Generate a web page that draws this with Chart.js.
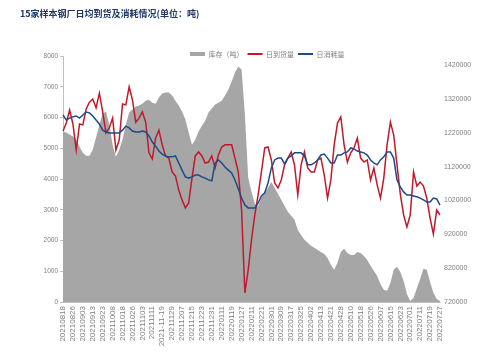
<!DOCTYPE html>
<html><head><meta charset="utf-8">
<script src="https://cdn.jsdelivr.net/npm/chart.js@4"></script>
<style>html,body{margin:0;padding:0;background:#fff;}#wrap{width:500px;height:356px;}</style>
</head><body>
<div id="wrap"><canvas id="c" width="500" height="356"></canvas></div>
<script>
const tickLabels = ['20210818','20210826','20210903','20210913','20210923','20211008','20211018','20211026','20211103','20211111','2021-11-19','20211129','20211207','20211215','20211223','20211231','20220111','20220119','20220127','20220211','20220221','20220301','20220309','20220317','20220325','20220402','20220413','20220421','20220428','20220510','20220518','20220526','20220607','20220615','20220623','20220701','20220711','20220719','20220727'];

// 库存（吨） - right axis
const inventory = [1224000,1221000,1215000,1209000,1200000,1179000,1161000,1152000,1152000,1170000,
 1206000,1244000,1277000,1283000,1244000,1185000,1149000,1170000,1200000,1244000,
 1280000,1289000,1298000,1301000,1306000,1315000,1318000,1309000,1306000,1324000,
 1336000,1339000,1339000,1330000,1315000,1301000,1283000,1259000,1221000,1185000,
 1200000,1224000,1241000,1256000,1280000,1292000,1304000,1309000,1315000,1330000,
 1348000,1372000,1398000,1416000,1407000,1274000,1087000,1046000,1010000,1004000,
 1028000,1043000,1058000,1075000,1058000,1040000,1022000,1004000,987000,975000,
 963000,933000,918000,904000,895000,886000,880000,874000,868000,862000,
 850000,830000,815000,836000,868000,877000,865000,859000,859000,868000,
 865000,856000,844000,827000,812000,797000,773000,756000,753000,776000,
 815000,824000,809000,782000,744000,723000,732000,761000,788000,818000,
 815000,779000,747000,729000,723000];

// 日到货量 - left axis
const arrivals = [5560,5820,6240,5790,4940,5790,5760,6280,6500,6600,
 6310,6790,6180,5500,5660,5980,4940,5270,6440,6410,
 7000,6570,5850,5980,6180,5850,4850,4650,5330,5590,
 5110,4750,4680,4230,4100,3640,3320,3060,3220,4030,
 4750,4880,4750,4520,4550,4750,4360,4780,5040,5110,
 5110,5110,4680,4230,2990,300,1040,2020,2830,3480,
 4230,5010,5040,4620,3870,3710,3970,4460,4680,4880,
 4460,3480,4460,4880,4360,4230,4230,4620,4680,4130,
 3380,3970,5110,5820,6020,5110,4550,4850,5010,5330,
 4680,4550,4620,3970,4360,3810,3380,4030,5110,5850,
 5430,4460,3510,2830,2440,2830,4230,3770,3900,3770,
 3380,2730,2210,2990,2830];

// 日消耗量 - left axis
const consumption = [6080,5920,5980,6020,6050,5980,6080,6180,6150,6050,
 5920,5790,5590,5530,5500,5500,5500,5500,5590,5720,
 5660,5560,5530,5530,5560,5530,5400,5200,5070,4910,
 4810,4750,4720,4720,4750,4520,4290,4070,4030,4070,
 4130,4130,4070,4030,3970,3940,4520,4620,4520,4390,
 4290,4200,3970,3680,3380,3150,3060,3060,3060,3220,
 3450,3550,3870,4360,4620,4680,4680,4490,4680,4750,
 4850,4850,4850,4750,4460,4460,4520,4620,4780,4810,
 4680,4520,4520,4780,4780,4850,4880,5010,4980,4910,
 4880,4850,4780,4620,4520,4460,4620,4720,4880,4880,
 4680,3970,3740,3580,3480,3480,3450,3420,3380,3320,
 3250,3250,3380,3350,3150];

const leftTicks = [0,1000,2000,3000,4000,5000,6000,7000,8000];
const rightTicks = [720000,820000,920000,1020000,1120000,1220000,1320000,1420000];

const PER = 3;
const categories = inventory.map((_, i) => (i % PER === 0 ? (tickLabels[i / PER] || '') : ''));

const legendPlace = {
  id: 'legendPlace',
  afterLayout(chart) {
    const lg = chart.legend;
    if (!lg || !lg.lineWidths) return;
    const p = lg.options.labels.padding;
    const w = lg.lineWidths[0];
    lg.left = 186;
    lg.right = 186 + p + w;
    lg.top = 46.5;
    lg.bottom = lg.top + 15;
  }
};

const tickFont = {family: '"Liberation Sans", Arial, sans-serif'};

new Chart(document.getElementById('c'), {
  type: 'line',
  data: {
    labels: categories,
    datasets: [
      {label: '库存（吨）', data: inventory, yAxisID: 'y1', fill: 'start',
       backgroundColor: '#A6A6A6', borderWidth: 0, borderColor: 'rgba(0,0,0,0)',
       pointRadius: 0, pointStyle: 'rect', pointBorderWidth: 0, order: 3},
      {label: '日到货量', data: arrivals, yAxisID: 'y', fill: false,
       borderColor: '#C2182B', backgroundColor: '#C2182B', borderWidth: 1.5,
       pointRadius: 0, pointStyle: 'line', pointBorderWidth: 2, order: 2},
      {label: '日消耗量', data: consumption, yAxisID: 'y', fill: false,
       borderColor: '#1F4A86', backgroundColor: '#1F4A86', borderWidth: 1.5,
       pointRadius: 0, pointStyle: 'line', pointBorderWidth: 2, order: 1}
    ]
  },
  options: {
    responsive: false,
    animation: false,
    devicePixelRatio: 1,
    layout: {padding: {left: 20, right: 0, top: 0, bottom: 0}},
    elements: {line: {tension: 0}, point: {radius: 0}},
    plugins: {
      tooltip: {enabled: false},
      title: {
        display: true, text: '15家样本钢厂日均到货及消耗情况(单位：吨)', align: 'start',
        color: '#1F3864', font: {family: '"Noto Sans CJK SC"', size: 9, weight: 'bold'},
        padding: {top: 8, bottom: 36.2}
      },
      legend: {
        display: true, position: 'top', maxHeight: 1,
        labels: {usePointStyle: true, pointStyleWidth: 15, boxHeight: 4, padding: 4,
                 sort: (a, b) => a.datasetIndex - b.datasetIndex,
                 color: '#7F7F7F', font: {family: '"Noto Sans CJK SC"', size: 7}}
      }
    },
    scales: {
      x: {
        type: 'category', offset: false,
        grid: {display: false, drawTicks: false},
        border: {display: true, color: '#BFBFBF'},
        ticks: {autoSkip: false, maxRotation: 90, minRotation: 90, padding: 4,
                color: '#7F7F7F', font: Object.assign({size: 8}, tickFont)},
        afterFit(s) { s.height = 54; }
      },
      y: {
        position: 'left', min: 0, max: 8000,
        afterBuildTicks(s) { s.ticks = leftTicks.map(v => ({value: v})); },
        grid: {display: true, drawOnChartArea: false, drawTicks: true, tickLength: 3, color: '#BFBFBF'},
        border: {display: true, color: '#BFBFBF'},
        ticks: {padding: 2, color: '#7F7F7F', font: Object.assign({size: 6.5}, tickFont),
                callback: v => String(v)},
        afterFit(s) { s.width = 43; }
      },
      y1: {
        position: 'right', min: 720000, max: 1447000,
        afterBuildTicks(s) { s.ticks = rightTicks.map(v => ({value: v})); },
        grid: {display: false, drawTicks: false},
        border: {display: false},
        ticks: {padding: 4, color: '#7F7F7F', font: Object.assign({size: 7}, tickFont),
                callback: v => String(v)},
        afterFit(s) { s.width = 60; }
      }
    }
  },
  plugins: [legendPlace]
});
</script>
</body></html>
